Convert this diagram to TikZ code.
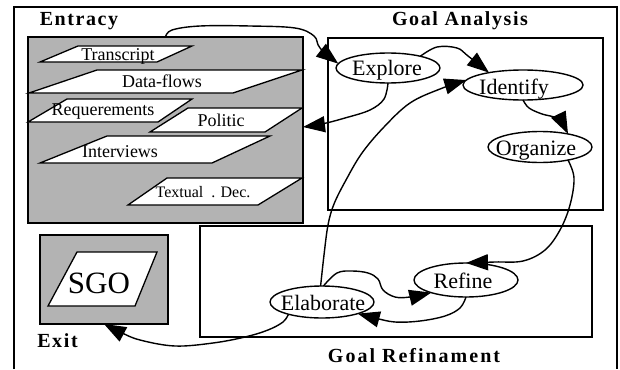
\documentclass[tikz,border=0pt]{standalone}
\usepackage{fontspec}
\setmainfont{Liberation Serif}
\usetikzlibrary{shapes.geometric,arrows.meta,calc}
\definecolor{boxgray}{RGB}{179,179,179}
\begin{document}
\begin{tikzpicture}[x=1pt,y=-1pt,
  every node/.style={inner sep=0pt, outer sep=0pt},
  frame/.style={draw=black, line width=1.5pt},
  gbox/.style={draw=black, line width=1.5pt, fill=boxgray},
  para/.style={draw=black, line width=1.3pt, fill=white, line join=miter},
  ptext/.style={anchor=base, font=\fontsize{18}{18}\selectfont},
  oval/.style={ellipse, draw=black, line width=1.4pt, fill=white},
  otext/.style={anchor=base, font=\fontsize{22}{22}\selectfont},
  title/.style={anchor=base, font=\fontsize{20}{20}\selectfont\bfseries\addfontfeature{LetterSpace=8}},
  wtitle/.style={anchor=base, font=\fontsize{20}{20}\selectfont\bfseries\addfontfeature{LetterSpace=10}},
  conn/.style={line width=1.4pt, -{Triangle[length=22pt,width=16pt]}},
]
\useasboundingbox (0,0) rectangle (620,369);
\draw[frame] (14,369) -- (14,7) -- (617,7) -- (617,369);

% Entracy
\node[title] (tEntracy) at (79,26) {Entracy};
\node[gbox, minimum width=275pt, minimum height=186pt] (entracy) at (165.5,130) {};
\draw[para] (40,62) -- (157,62) -- (192,46) -- (78,46) -- cycle;
\node[ptext] (tTranscript) at (118,60) {Transcript};
\draw[para] (29,93) -- (233,93) -- (302,70) -- (97,70) -- cycle;
\node[ptext] (tDataflows) at (162,87) {Data-flows};
\draw[para] (28,122) -- (158,122) -- (192,99) -- (67,99) -- cycle;
\node[ptext] (tReq) at (103,115) {Requerements};
\draw[para] (150,132) -- (265,132) -- (302,108) -- (188,108) -- cycle;
\node[ptext] (tPolitic) at (221,126) {Politic};
\draw[para] (40,163) -- (212,163) -- (270,136) -- (107,136) -- cycle;
\node[ptext] (tInterviews) at (120,157) {Interviews};
\draw[para] (128,205) -- (258,205) -- (302,178) -- (167,178) -- cycle;
\node[ptext, font=\fontsize{16}{16}\selectfont] (tTextual) at (203,197) {Textual \ . Dec.};

% Goal Analysis
\node[title] (tGA) at (460,26) {Goal Analysis};
\node[frame, minimum width=275pt, minimum height=172pt] (ga) at (465.5,124) {};
\node[oval, minimum width=104pt, minimum height=30pt] (explore) at (388,68) {};
\node[otext] (tExplore) at (387,75) {Explore};
\node[oval, minimum width=120pt, minimum height=30pt] (identify) at (523,85) {};
\node[otext] (tIdentify) at (514,94) {Identify};
\node[oval, minimum width=104pt, minimum height=31pt] (organize) at (540,147) {};
\node[otext] (tOrganize) at (536,155) {Organize};

% Exit
\node[gbox, minimum width=128pt, minimum height=89pt] (exitbox) at (104,279.5) {};
\draw[para] (48,306) -- (135,306) -- (157,252) -- (77,252) -- cycle;
\node[anchor=base, font=\fontsize{31}{31}\selectfont] (tSGO) at (99,293) {SGO};
\node[title] (tExit) at (57.5,347) {Exit};

% Goal Refinement
\node[frame, minimum width=392pt, minimum height=111pt] (gr) at (396,281.5) {};
\node[wtitle] (tGR) at (414,362) {Goal Refinament};
\node[oval, minimum width=104pt, minimum height=32pt] (elaborate) at (322,302) {};
\node[otext] (tElaborate) at (323,310) {Elaborate};
\node[oval, minimum width=104pt, minimum height=34pt] (refine) at (466,280) {};
\node[otext] (tRefine) at (463,288) {Refine};

% connectors
\draw[conn] plot[smooth, tension=0.6] coordinates {(entracy.north) (172,30) (200,26) (250,26) (295,28) (314,36) (320,48) (explore.175)};
\draw[conn] plot[smooth, tension=0.6] coordinates {(explore.20) (437,47) (457,48) (468,56) (identify.160)};
\draw[conn] plot[smooth, tension=0.6] coordinates {(explore.south) (384,99) (370,110) (345,118) (322,124) ($(entracy.east)+(0,-3)$)};
\draw[conn] plot[smooth, tension=0.6] coordinates {(identify.south) (529,108) (542,114) (558,119) (organize.25)};
\draw[conn] plot[smooth, tension=0.6] coordinates {(organize.-25) (574,178) (570,205) (560,230) (545,250) (523,261) (495,262) (refine.north)};
\draw[conn] plot[smooth, tension=0.6] coordinates {(elaborate.95) (324,255) (328,225) (334,204) (346,180) (362,153) (384,127) (410,103) (440,89) (identify.175)};
\draw[conn] plot[smooth, tension=0.6] coordinates {(elaborate.85) (337,273) (352,271) (368,273) (378,279) (383,290) (395,297) (410,297) (refine.200)};
\draw[conn] plot[smooth, tension=0.6] coordinates {(refine.south) (460,308) (445,316) (420,321) (395,322) (375,318) (elaborate.-18)};
\draw[conn] plot[smooth, tension=0.6] coordinates {(elaborate.-160) (283,322) (268,330) (245,337) (213,343) (175,346) (140,340) (120,332) (exitbox.south)};
\end{tikzpicture}
\end{document}
